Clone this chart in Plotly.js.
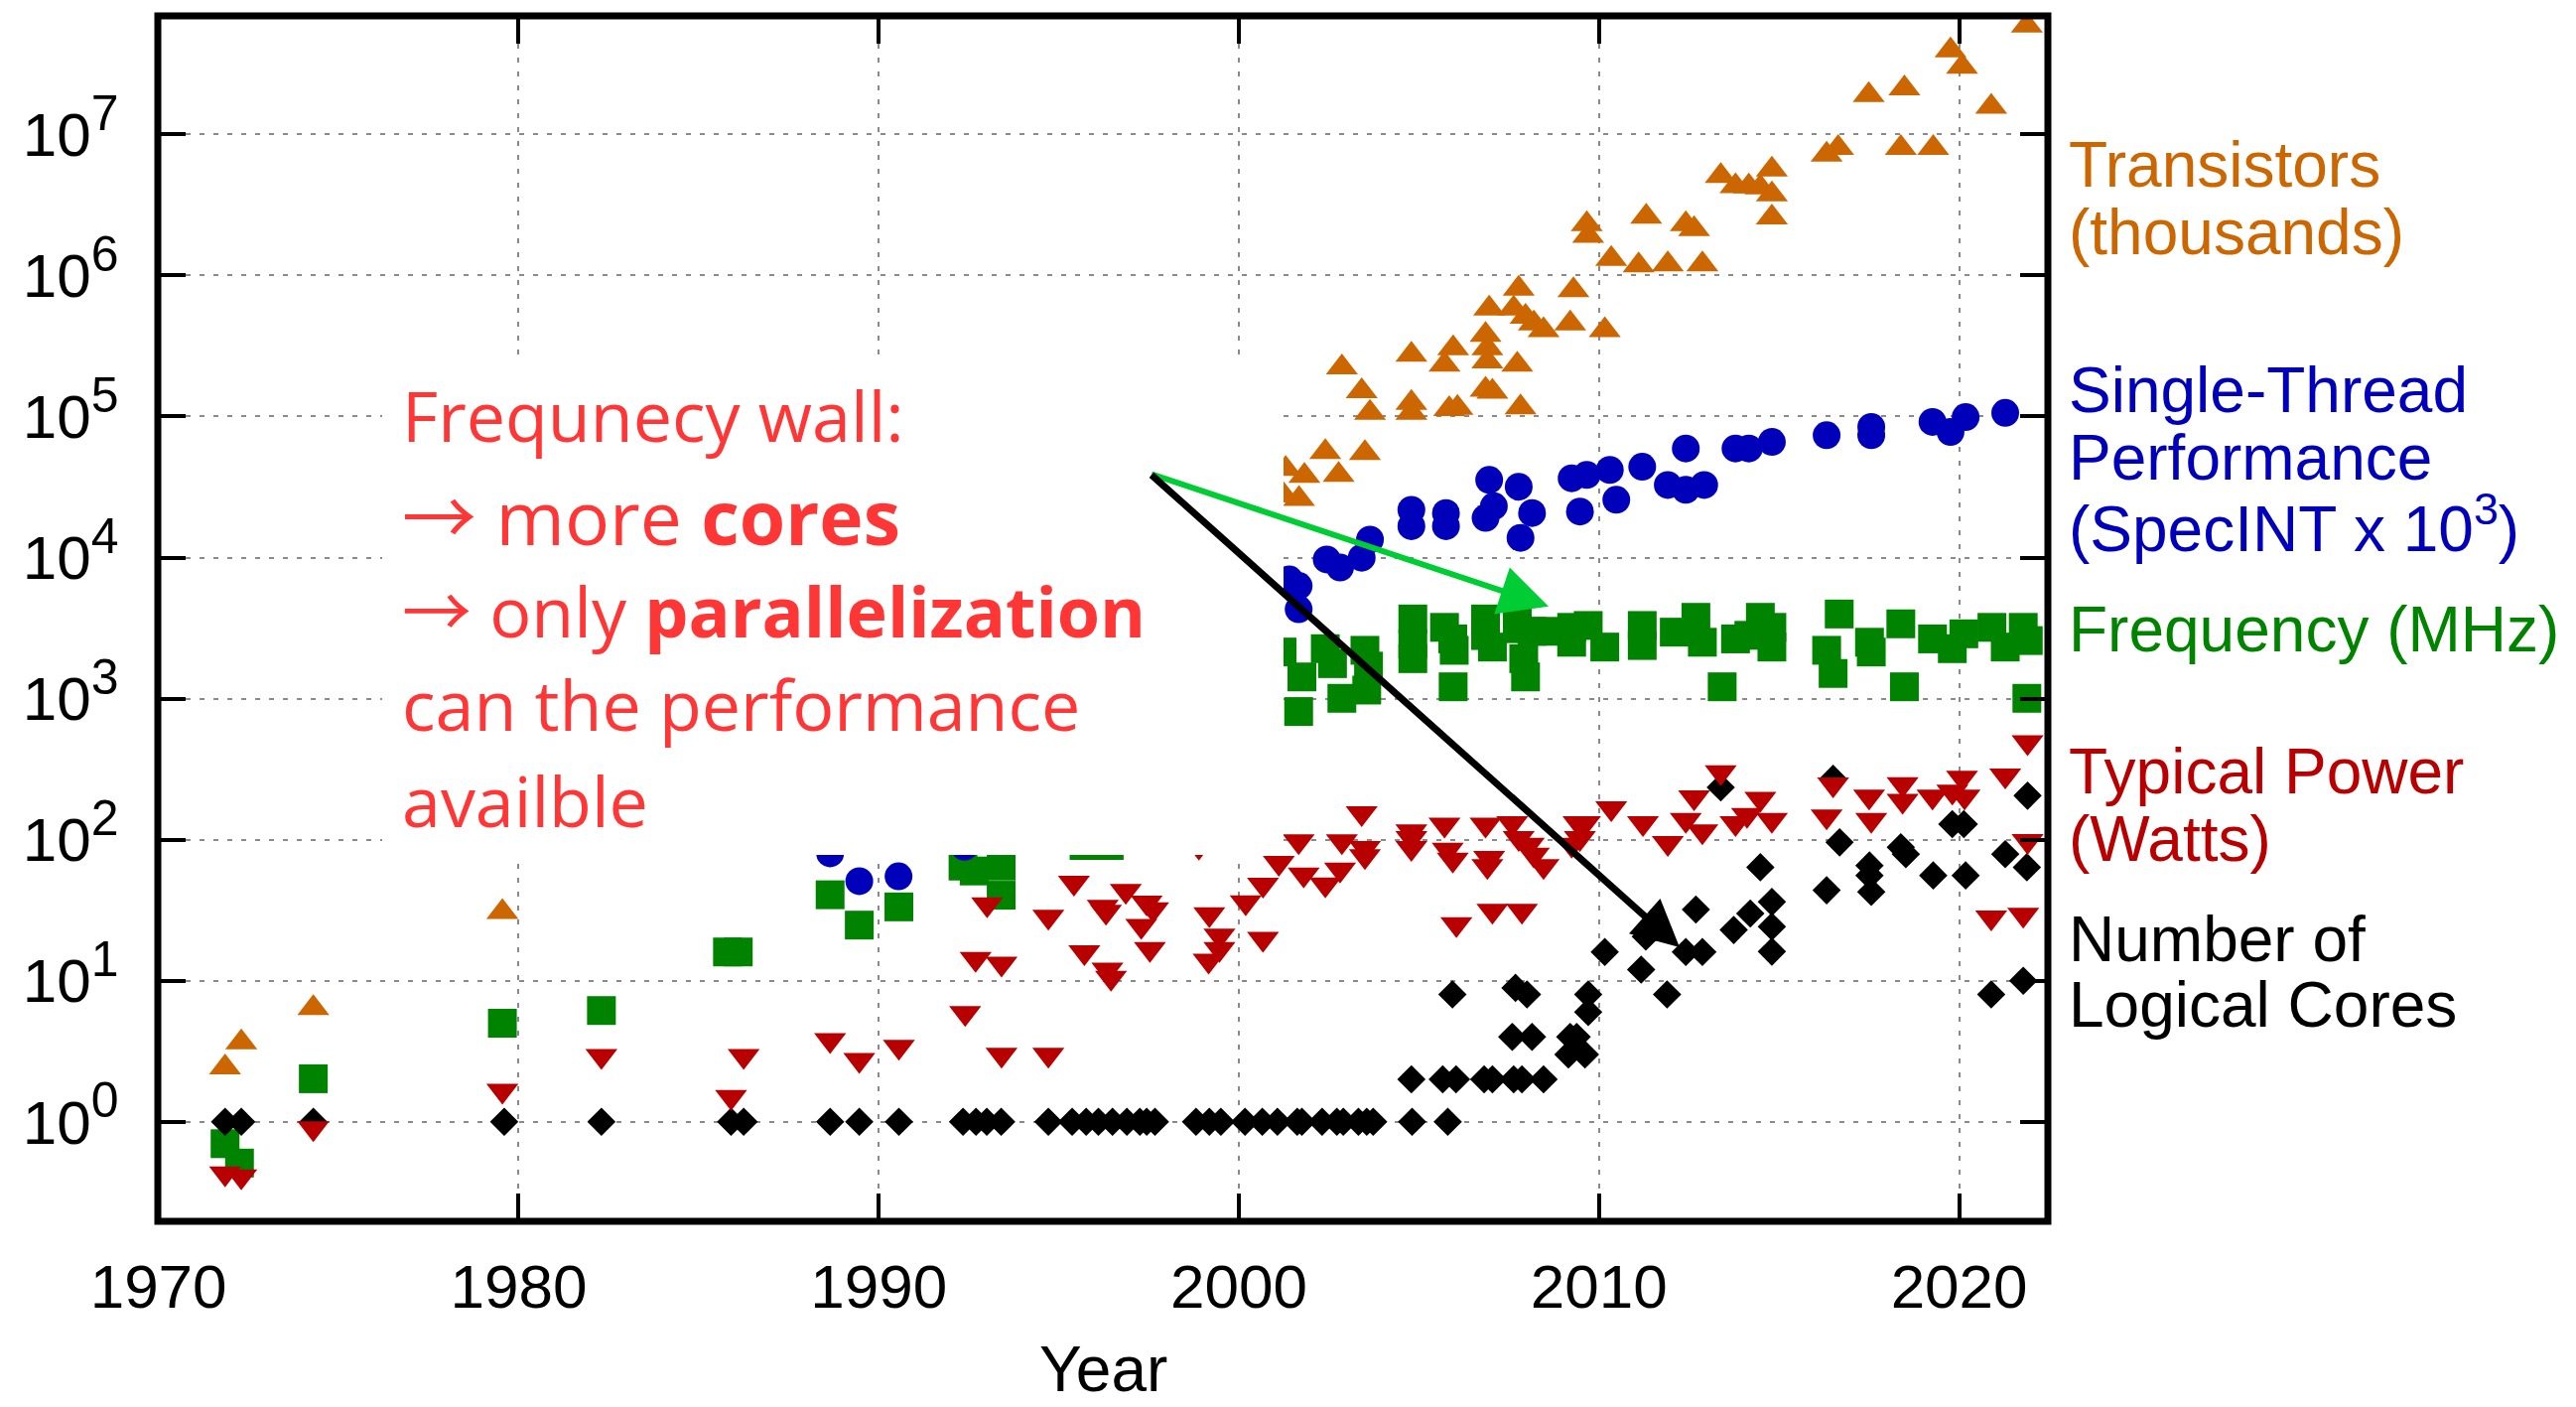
<!DOCTYPE html>
<html>
<head>
<meta charset="utf-8">
<script src="https://cdn.plot.ly/plotly-3.0.1.min.js"></script>
<style>html,body{margin:0;padding:0;background:#fff;}#chart{width:2595px;height:1417px;}</style>
</head>
<body>
<div id="chart"></div>
<script>
// ---------- DATA (year, value) ----------
const transistors = [
  [1971.85,2.43],[1972.3,3.66],[1974.3,6.4],[1979.55,30.7],
  [2001.25,2.75e4],[2001.3,4.25e4],[2001.67,2.6e4],[2001.82,3.8e4],[2002.4,5.6e4],[2002.77,3.85e4],[2003.5,5.5e4],
  [2002.86,2.23e5],[2003.41,1.51e5],[2003.64,1.06e5],[2004.79,2.74e5],[2004.79,1.25e5],[2004.79,1.06e5],
  [2005.71,2.33e5],[2005.95,3.05e5],[2005.84,1.13e5],[2006.07,1.15e5],
  [2006.85,3.79e5],[2006.9,3.05e5],[2006.9,2.46e5],[2006.85,1.55e5],[2007.04,1.5e5],[2006.95,5.83e5],
  [2007.73,2.33e5],[2007.82,1.16e5],[2007.77,8.06e5],[2007.63,5.83e5],[2007.96,5.1e5],[2008.19,4.57e5],[2008.46,4.1e5],
  [2009.29,7.85e5],[2009.2,4.57e5],[2010.16,4.1e5],[2009.66,2.31e6],[2009.7,1.91e6],[2010.34,1.31e6],
  [2011.31,2.61e6],[2011.1,1.18e6],[2011.91,1.2e6],[2012.87,1.2e6],[2012.41,2.31e6],[2012.64,2.13e6],
  [2013.38,5.06e6],[2013.79,4.3e6],[2014.16,4.27e6],[2014.48,4.2e6],[2014.8,5.64e6],[2014.8,3.76e6],[2014.8,2.58e6],
  [2016.32,7.19e6],[2016.64,8.0e6],[2017.49,1.9e7],[2018.48,2.12e7],[2018.38,8.0e6],[2019.28,8.0e6],
  [2019.76,3.94e7],[2020.08,3.01e7],[2020.89,1.57e7],[2021.88,5.9e7]
];
const singleThread = [
  [1988.65,80],[1989.46,50.8],[1990.55,55],[1992.38,89],
  [2001.4,7000],[2001.66,6300],[2001.66,4300],[2002.44,9700],[2002.81,8500],[2003.41,9980],[2003.64,13400],
  [2004.79,21800],[2004.79,16700],[2005.75,20700],[2005.75,16700],[2006.95,35500],[2007.08,23100],[2006.85,19100],
  [2007.77,31800],[2008.14,20700],[2007.82,13800],[2009.24,36500],[2009.66,38500],[2010.3,41800],[2009.47,21200],
  [2010.48,25700],[2011.2,44000],[2011.91,32700],[2012.41,59300],[2012.41,30200],[2012.92,32700],[2013.79,59300],
  [2014.16,59300],[2014.8,66000],[2016.32,73700],[2017.56,84300],[2017.56,73700],[2019.26,91500],[2019.76,77700],
  [2020.18,99000],[2021.28,106000]
];
const frequency = [
  [1971.85,0.70],[1972.25,0.51],[1974.3,2.02],[1979.55,5.0],[1982.3,6.15],[1985.8,16],[1986.1,16],
  [1988.65,40.7],[1989.46,24.8],[1990.56,33.4],[1992.34,65],[1992.65,60],[1993.4,65],[1993.4,40.4],
  [1995.7,91],[1996.4,91],
  [2001.2,2140],[2001.75,1425],[2001.66,810],[2002.4,2260],[2002.6,1770],[2002.86,1005],[2003.5,2200],[2003.55,1150],[2003.6,1700],
  [2004.83,3670],[2004.83,2450],[2004.83,1920],[2005.71,3200],[2005.94,2650],[2005.98,2200],[2005.95,1213],
  [2006.85,3670],[2006.85,2800],[2007.04,2320],[2007.73,4320],[2007.73,3130],[2007.91,1920],[2007.96,1425],
  [2008.14,3000],[2008.46,3000],[2009.24,3200],[2009.24,2510],[2009.7,3300],[2010.16,2320],
  [2011.2,3300],[2011.2,2380],[2012.09,2960],[2012.69,3770],[2012.87,2510],[2013.42,1213],[2013.79,2650],
  [2014.16,2810],[2014.48,3770],[2014.8,3200],[2014.8,2320],[2016.32,2200],[2016.5,1508],[2016.67,3980],
  [2017.51,2510],[2017.56,2140],[2018.38,3390],[2018.48,1213],[2019.26,2650],[2019.81,2260],[2020.13,2880],
  [2020.91,3200],[2021.28,2320],[2021.78,3200],[2021.92,2580],[2021.88,1005]
];
const power = [
  [1971.85,0.43],[1972.3,0.41],[1974.3,0.9],[1979.55,1.66],[1982.3,2.93],[1985.9,1.5],[1986.25,2.93],
  [1988.65,3.8],[1989.46,2.75],[1990.56,3.4],[1992.4,5.9],[1993.41,2.99],[1994.71,2.99],[1992.69,14.3],
  [1993.41,13.2],[1993.01,34.8],[1994.71,28.4],[1995.42,49.5],[1995.71,15.9],[1996.22,33.4],[1996.31,30.8],
  [1996.35,12],[1996.45,10.5],[1996.86,43.3],[1997.44,35.8],[1997.62,32.1],[1997.29,24.5],[1997.53,16.8],
  [1998.89,89],[1999.18,29.6],[1999.46,20.9],[1999.46,16.8],[1999.16,13.9],
  [2000.19,36],[2000.67,48],[2000.67,19.8],[2001.11,68.5],[2001.66,97.3],[2001.8,56.7],[2002.4,48.2],
  [2002.86,97.3],[2002.81,61.5],[2003.41,154],[2003.5,87.3],[2003.5,76.4],[2004.79,114.6],[2004.79,102.8],
  [2004.79,87.3],[2005.71,127.7],[2005.8,85],[2005.94,72.3],[2006.04,25.2],[2006.85,127.7],[2006.95,74.3],
  [2006.9,64.9],[2007.04,31.4],[2007.59,131],[2007.86,31.4],[2007.77,102.8],[2008.05,92.2],[2008.19,78.4],
  [2008.46,64.9],[2009.43,131],[2009.61,131],[2009.24,92.2],[2009.47,102.8],[2010.34,167],[2011.22,131],
  [2011.91,94.8],[2012.41,138],[2012.87,114.6],[2012.64,200],[2013.38,300],[2013.79,131],[2014.11,150],
  [2014.48,195],[2014.8,138],[2016.32,146],[2016.5,246],[2017.5,202],[2017.56,138],[2018.43,247],
  [2018.43,189],[2019.26,202],[2019.81,219],[2020.08,275],[2020.15,202],[2021.28,285],[2021.9,490],
  [2021.9,98],[2020.89,28.1],[2021.78,29.4]
];
const cores = [
  [1971.85,1],[1972.3,1],[1974.3,1],[1979.6,1],[1982.3,1],[1985.9,1],[1986.25,1],[1988.65,1],[1989.46,1],
  [1990.56,1],[1992.34,1],[1992.7,1],[1993.0,1],[1993.4,1],[1994.71,1],[1995.37,1],[1995.76,1],[1996.1,1],
  [1996.49,1],[1996.89,1],[1997.25,1],[1997.44,1],[1997.67,1],[1998.81,1],[1999.18,1],[1999.5,1],[2000.17,1],
  [2000.65,1],[2001.07,1],[2001.62,1],[2001.75,1],[2002.31,1],[2002.72,1],[2002.9,1],[2003.32,1],[2003.55,1],
  [2003.73,1],[2004.81,1],[2005.8,1],
  [2004.79,2],[2005.66,2],[2006.03,2],[2006.81,2],[2007.04,2],[2007.63,2],[2007.86,2],[2008.46,2],
  [2007.59,4],[2008.14,4],[2009.2,4],[2009.38,4],[2009.15,3],[2009.61,3],[2009.7,6],
  [2005.93,8],[2007.68,8.9],[2008.0,8],[2009.7,8],
  [2010.16,16],[2011.17,12],[2011.3,20.6],[2011.6,24],[2011.89,8],[2012.41,16],[2012.87,16],[2012.69,32],
  [2013.38,235],[2013.74,22.9],[2014.2,30],[2014.48,63.8],[2014.8,36.2],[2014.8,24.2],[2014.8,16.1],
  [2016.32,43.8],[2016.5,270],[2016.68,95.7],[2017.51,65.6],[2017.51,55.8],[2017.56,42.6],[2018.38,88.3],
  [2018.52,79],[2019.28,55.8],[2019.81,129],[2020.13,129],[2020.18,55.8],[2020.89,8],[2021.28,79],
  [2021.78,10],[2021.88,63.8],[2021.9,205]
];
const xTickVals = [1970,1980,1990,2000,2010,2020];
const yTickVals = [1,10,100,1e3,1e4,1e5,1e6,1e7];
const yTickExponents = ['0','1','2','3','4','5','6','7'];

// ---------- STYLE ----------
const C_ORANGE = '#cc6600', C_BLUE = '#0000bb', C_GREEN = '#008400', C_RED = '#b80000', C_BLACK = '#000000';
const TXT_RED = '#ff3636';
const SANS = 'Liberation Sans, Arial, Helvetica, sans-serif';
const OPEN = 'Open Sans, Noto Sans, sans-serif';

const yTickText = yTickExponents.map(e => '10<sup><span style="font-size:50px">' + e + '</span></sup>');

function series(pairs, symbol, size, color) {
  return {
    type: 'scatter', mode: 'markers',
    x: pairs.map(p => p[0]), y: pairs.map(p => p[1]),
    marker: {symbol: symbol, size: size, color: color, line: {width: 0}},
    hoverinfo: 'skip'
  };
}

const data = [
  series(frequency, 'square', 29, C_GREEN),
  series(singleThread, 'circle', 28, C_BLUE),
  series(cores, 'diamond', 22, C_BLACK),
  series(power, 'triangle-down', 28, C_RED),
  series(transistors, 'triangle-up', 28, C_ORANGE)
];

// plot area in pixels: left 159, right 2063, top 16, bottom 1230
const PX = px => (px - 159) / 1904;
const PY = py => (1230 - py) / 1214;

function label(text, py, color) {
  return {xref: 'paper', yref: 'paper', x: PX(2082), y: PY(py), xanchor: 'left', yanchor: 'middle',
          text: text, showarrow: false, font: {family: SANS, size: 64, color: color}};
}
const ARROW = '<span style="font-family:Noto Sans CJK SC">→</span>';
function note(text, py, size) {
  return {xref: 'paper', yref: 'paper', x: PX(403), y: PY(py), xanchor: 'left', yanchor: 'middle',
          text: text, showarrow: false, font: {family: OPEN, size: size, color: TXT_RED}};
}

const tailX = 1997.533, tailL = 4.595;
const annotations = [
  label('Transistors', 166, C_ORANGE),
  label('(thousands)', 234, C_ORANGE),
  label('Single-Thread', 393, C_BLUE),
  label('Performance', 461, C_BLUE),
  label('(SpecINT x 10<sup>3</sup>)', 528, C_BLUE),
  label('Frequency (MHz)', 634, C_GREEN),
  label('Typical Power', 777, C_RED),
  label('(Watts)', 845, C_RED),
  label('Number of', 946, C_BLACK),
  label('Logical Cores', 1012, C_BLACK),
  note('Frequnecy wall:', 418, 70),
  note(ARROW + ' more <b>cores</b>', 516, 75),
  note(ARROW + ' only <b>parallelization</b>', 612, 70),
  note('can the performance', 709, 70),
  note('availble', 806, 70),
  {xref: 'paper', yref: 'paper', x: 0.5, y: PY(1416), xanchor: 'center', yanchor: 'bottom',
   borderpad: 0, text: 'Year', showarrow: false, font: {family: SANS, size: 64, color: '#000'}},
  {xref: 'x', yref: 'y', x: 2008.6, y: 3.654, axref: 'x', ayref: 'y', ax: tailX, ay: tailL,
   text: '', showarrow: true, arrowhead: 2, arrowsize: 1.65, arrowwidth: 6, arrowcolor: '#00cc33'},
  {xref: 'x', yref: 'y', x: 2012.237, y: 1.2374, axref: 'x', ayref: 'y', ax: tailX, ay: tailL,
   text: '', showarrow: true, arrowhead: 2, arrowsize: 1.35, arrowwidth: 7, arrowcolor: '#000000'}
];

const axisCommon = {
  ticks: 'inside', ticklen: 28, tickwidth: 4, tickcolor: '#000',
  showline: true, linewidth: 1, linecolor: '#000', mirror: 'ticks',
  showgrid: true, gridcolor: '#8a8a8a', gridwidth: 2, griddash: '5px,9px',
  zeroline: false, tickfont: {family: SANS, size: 62, color: '#000'}
};

const layout = {
  width: 2595, height: 1417,
  margin: {l: 159, r: 532, t: 16, b: 187, pad: 0},
  paper_bgcolor: '#ffffff', plot_bgcolor: '#ffffff',
  showlegend: false,
  xaxis: Object.assign({}, axisCommon, {
    range: [1969.983, 2022.464], tickmode: 'array', tickvals: xTickVals,
    ticklabelstandoff: 12
  }),
  yaxis: Object.assign({}, axisCommon, {
    type: 'log', range: [-0.7053, 7.8398], tickmode: 'array', tickvals: yTickVals, ticktext: yTickText,
    ticklabelstandoff: 26
  }),
  shapes: [
    {type: 'rect', xref: 'paper', yref: 'paper', x0: PX(385), x1: PX(1293), y0: PY(861), y1: PY(361),
     fillcolor: '#ffffff', line: {width: 0}, layer: 'above'},
    {type: 'rect', xref: 'paper', yref: 'paper', x0: 0, x1: 1, y0: 0, y1: 1,
     fillcolor: 'rgba(0,0,0,0)', line: {width: 7, color: '#000'}, layer: 'above'}
  ],
  annotations: annotations
};

Plotly.newPlot('chart', data, layout, {displayModeBar: false, staticPlot: true});
</script>
</body>
</html>
